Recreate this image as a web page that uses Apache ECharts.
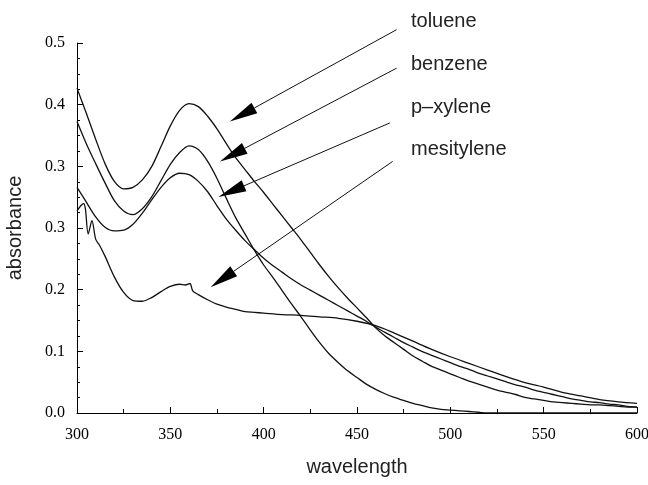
<!DOCTYPE html>
<html lang="en">
<head>
	<meta charset="UTF-8">
	<title>absorbance</title>
	<script src="https://cdn.jsdelivr.net/npm/echarts@6/dist/echarts.min.js"></script>
	<style>
		* { margin: 0; padding: 0; }
		html, body, #main { width: 648px; height: 485px; background: #fff; }
	</style>
</head>
<body>
	<div id="main"></div>
	<script>
		// wavelength grid (nm) shared by toluene, benzene, p-xylene
		const wavelength = [
			300, 305, 310, 315, 320, 325, 330, 335, 340, 345, 350, 355, 360, 365, 370, 375, 380, 385, 390, 395,
			400, 405, 410, 415, 420, 425, 430, 435, 440, 445, 450, 455, 460, 465, 470, 475, 480, 485, 490, 495,
			500, 505, 510, 515, 520, 525, 530, 535, 540, 545, 550, 555, 560, 565, 570, 575, 580, 585, 590, 595, 600
		];
		const toluene = [
			0.439, 0.405, 0.370, 0.337, 0.313, 0.303, 0.305, 0.315, 0.333, 0.360, 0.388, 0.409, 0.418, 0.414, 0.401, 0.384, 0.364, 0.345, 0.329, 0.313,
			0.298, 0.282, 0.266, 0.250, 0.234, 0.217, 0.200, 0.184, 0.169, 0.155, 0.142, 0.129, 0.115, 0.104, 0.095, 0.086, 0.077, 0.070, 0.063, 0.058,
			0.053, 0.048, 0.043, 0.039, 0.035, 0.031, 0.028, 0.025, 0.021, 0.019, 0.017, 0.015, 0.014, 0.013, 0.012, 0.011, 0.011, 0.010, 0.009, 0.008, 0.008
		];
		const benzene = [
			0.394, 0.364, 0.337, 0.311, 0.287, 0.273, 0.268, 0.276, 0.292, 0.314, 0.336, 0.352, 0.361, 0.356, 0.340, 0.317, 0.290, 0.264, 0.242, 0.220,
			0.200, 0.183, 0.165, 0.147, 0.130, 0.112, 0.095, 0.080, 0.068, 0.057, 0.048, 0.039, 0.032, 0.026, 0.021, 0.017, 0.013, 0.010, 0.007, 0.005,
			0.004, 0.003, 0.002, 0.001, 0, 0, 0, 0, 0, 0, 0, 0, 0, 0, 0, 0, 0, 0, 0, 0, 0
		];
		const pXylene = [
			0.305, 0.285, 0.265, 0.251, 0.246, 0.247, 0.255, 0.270, 0.288, 0.305, 0.318, 0.324, 0.322, 0.313, 0.299, 0.280, 0.262, 0.247, 0.233, 0.221,
			0.209, 0.199, 0.190, 0.181, 0.173, 0.166, 0.159, 0.152, 0.145, 0.138, 0.131, 0.124, 0.116, 0.109, 0.102, 0.095, 0.089, 0.083, 0.078, 0.073,
			0.068, 0.063, 0.059, 0.054, 0.050, 0.046, 0.042, 0.038, 0.035, 0.031, 0.028, 0.025, 0.022, 0.019, 0.017, 0.015, 0.014, 0.012, 0.011, 0.009, 0.008
		];
		// mesitylene has the spikes near 305 nm, so it gets its own finer grid
		const mesityleneNm = [
			300, 302, 303.5, 304.5, 306, 308, 310, 312, 315, 320, 325, 330, 335, 340, 345, 350, 355, 358, 360.5, 362,
			365, 370, 375, 380, 385, 390, 395, 400, 410, 420, 430, 440, 450, 460, 470, 480, 490, 500, 510, 520,
			530, 540, 550, 560, 570, 580, 590, 600
		];
		const mesitylene = [
			0.273, 0.280, 0.283, 0.276, 0.242, 0.260, 0.235, 0.227, 0.212, 0.184, 0.163, 0.152, 0.151, 0.156, 0.164, 0.171, 0.174, 0.173, 0.175, 0.165,
			0.160, 0.153, 0.147, 0.143, 0.140, 0.137, 0.136, 0.135, 0.133, 0.132, 0.130, 0.128, 0.124, 0.118, 0.108, 0.097, 0.086, 0.076, 0.067, 0.058,
			0.049, 0.041, 0.035, 0.028, 0.023, 0.018, 0.015, 0.013
		];
		const yStep = 0.5 / 6;
		const yTickLabels = ['0.0', '0.1', '0.2', '0.3', '0.3', '0.4', '0.5'];

		// annotation arrows, in data coordinates: [tail, tip]
		const labelNames = ['toluene', 'benzene', 'p\u2013xylene', 'mesitylene'];
		const labelY = [23, 66, 109, 151];
		const arrows = [
			[[471.2, 0.518], [381.9, 0.394]],
			[[471.2, 0.466], [376.6, 0.340]],
			[[467.6, 0.392], [375.7, 0.292]],
			[[469.1, 0.340], [371.6, 0.170]]
		];

		const pairs = (xs, ys) => xs.map((x, i) => [x, ys[i]]);

		const chart = echarts.init(document.getElementById('main'));
		const lineStyle = { color: '#111', width: 1.3 };
		const mkSeries = (name, data) => ({
			name, type: 'line', data, showSymbol: false, symbol: 'none',
			smooth: 0.3, lineStyle, clip: true
		});
		const tickFont = { fontFamily: 'Liberation Serif', fontSize: 16, color: '#000' };
		const nameFont = { fontFamily: 'Liberation Sans', fontSize: 20, color: '#222' };

		const option = {
			animation: false,
			grid: { left: 77, right: 11, top: 43, bottom: 72, containLabel: false, outerBoundsMode: 'none' },
			xAxis: {
				type: 'value', min: 300, max: 600, interval: 50,
				name: 'wavelength', nameLocation: 'middle', nameGap: 44, nameTextStyle: nameFont,
				axisLine: { lineStyle: { color: '#000', width: 1 } },
				axisTick: { inside: true, length: 6, lineStyle: { color: '#000' } },
				minorTick: { show: true, splitNumber: 2, length: 4, lineStyle: { color: '#000' } },
				axisLabel: Object.assign({ margin: 14 }, tickFont),
				splitLine: { show: false }
			},
			yAxis: {
				type: 'value', min: 0, max: 0.5, interval: yStep,
				name: 'absorbance', nameLocation: 'middle', nameGap: 52, nameTextStyle: nameFont,
				axisLine: { show: true, lineStyle: { color: '#000', width: 1 } },
				axisTick: { show: true, inside: true, length: 6, lineStyle: { color: '#000' } },
				minorTick: { show: true, splitNumber: 4, length: 3, lineStyle: { color: '#000' } },
				axisLabel: Object.assign({ margin: 12, formatter: v => yTickLabels[Math.round(v / yStep)] }, tickFont),
				splitLine: { show: false }
			},
			series: [
				mkSeries('toluene', pairs(wavelength, toluene)),
				mkSeries('benzene', pairs(wavelength, benzene)),
				mkSeries('p-xylene', pairs(wavelength, pXylene)),
				mkSeries('mesitylene', pairs(mesityleneNm, mesitylene))
			]
		};
		chart.setOption(option);

		// arrows + labels drawn as graphic elements once the axes exist
		const graphics = [];
		arrows.forEach(([tail, tip], i) => {
			const p0 = chart.convertToPixel({ gridIndex: 0 }, tail);
			const p1 = chart.convertToPixel({ gridIndex: 0 }, tip);
			const dx = p1[0] - p0[0], dy = p1[1] - p0[1];
			const len = Math.hypot(dx, dy);
			const ux = dx / len, uy = dy / len;
			const headLen = 28, headHalf = 6;
			const bx = p1[0] - ux * headLen, by = p1[1] - uy * headLen;
			graphics.push({
				type: 'line', silent: true,
				shape: { x1: p0[0], y1: p0[1], x2: bx, y2: by },
				style: { stroke: '#111', lineWidth: 1 }
			});
			graphics.push({
				type: 'polygon', silent: true,
				shape: { points: [p1, [bx - uy * headHalf, by + ux * headHalf], [bx + uy * headHalf, by - ux * headHalf]] },
				style: { fill: '#000' }
			});
			graphics.push({
				type: 'text', silent: true, left: 411, top: labelY[i] - 12,
				style: { text: labelNames[i], font: '20px "Liberation Sans"', fill: '#222' }
			});
		});
		chart.setOption({ graphic: graphics });
	</script>
</body>
</html>
